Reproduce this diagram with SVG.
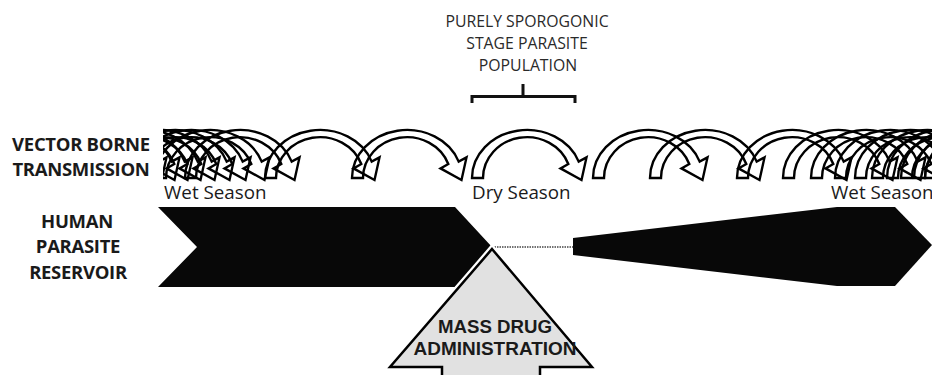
<svg xmlns="http://www.w3.org/2000/svg" xmlns:xlink="http://www.w3.org/1999/xlink" width="932" height="375" viewBox="0 0 932 375">
<style>
.lbl{font-family:"Open Sans","Liberation Sans",sans-serif;font-weight:bold;font-size:18.5px;fill:#1a1a1a;text-anchor:middle;letter-spacing:-0.3px}
.top{font-family:"Open Sans","Liberation Sans",sans-serif;font-size:15.8px;fill:#2a2a2a;text-anchor:middle}
.season{font-family:"Open Sans","Liberation Sans",sans-serif;font-size:18.8px;fill:#1a1a1a}
.mda{font-family:"Liberation Sans",Arial,sans-serif;font-weight:bold;font-size:18px;fill:#1a1a1a;text-anchor:middle}
.arc{fill:none;stroke:#000;stroke-width:2.4;stroke-linejoin:miter}
.res{fill:#080808}
</style>
<defs>
<path id="arc" d="M0 0 A55 48 0 0 1 106.7 -16.4 L114.5 -20.6 L109.5 2 L88.5 -9.6 L96.3 -14 A44 41 0 0 0 11 0 Z"/>
<clipPath id="clip"><rect x="163" y="100" width="769" height="100"/></clipPath>
</defs>
<rect width="932" height="375" fill="#fff"/>

<g id="label-vector">
<text class="lbl" x="81" y="151">VECTOR BORNE</text>
<text class="lbl" x="81" y="176">TRANSMISSION</text>
</g>
<g id="label-human">
<text class="lbl" x="77" y="228">HUMAN</text>
<text class="lbl" x="78" y="253">PARASITE</text>
<text class="lbl" x="78" y="279">RESERVOIR</text>
</g>
<g id="label-sporogonic">
<text class="top" x="527" y="27">PURELY SPOROGONIC</text>
<text class="top" x="527" y="49">STAGE PARASITE</text>
<text class="top" x="528" y="71">POPULATION</text>
<path d="M472 103 V96.5 H575 V103 M523 96.5 V84" fill="none" stroke="#111" stroke-width="3"/>
</g>
<g id="seasons">
<text class="season" x="164" y="199">Wet Season</text>
<text class="season" x="472" y="199">Dry Season</text>
<text class="season" x="831" y="199">Wet Season</text>
</g>

<g id="connectors">
<g id="vector-arcs" clip-path="url(#clip)">
<use xlink:href="#arc" class="arc" x="52" y="178"/>
<use xlink:href="#arc" class="arc" x="65" y="178"/>
<use xlink:href="#arc" class="arc" x="78" y="178"/>
<use xlink:href="#arc" class="arc" x="91" y="178"/>
<use xlink:href="#arc" class="arc" x="105" y="178"/>
<use xlink:href="#arc" class="arc" x="120" y="178"/>
<use xlink:href="#arc" class="arc" x="136" y="178"/>
<use xlink:href="#arc" class="arc" x="155" y="178"/>
<use xlink:href="#arc" class="arc" x="185" y="178"/>
<use xlink:href="#arc" class="arc" x="265" y="178"/>
<use xlink:href="#arc" class="arc" x="352" y="178"/>
<use xlink:href="#arc" class="arc" x="472" y="178"/>
<use xlink:href="#arc" class="arc" x="593" y="178"/>
<use xlink:href="#arc" class="arc" x="650" y="178"/>
<use xlink:href="#arc" class="arc" x="737" y="178"/>
<use xlink:href="#arc" class="arc" x="783" y="178"/>
<use xlink:href="#arc" class="arc" x="811" y="178"/>
<use xlink:href="#arc" class="arc" x="835" y="178"/>
<use xlink:href="#arc" class="arc" x="855" y="178"/>
<use xlink:href="#arc" class="arc" x="872" y="178"/>
<use xlink:href="#arc" class="arc" x="887" y="178"/>
<use xlink:href="#arc" class="arc" x="901" y="178"/>
<use xlink:href="#arc" class="arc" x="914" y="178"/>
<use xlink:href="#arc" class="arc" x="925" y="178"/>
</g>
<line id="gap" x1="492" y1="247" x2="573" y2="247" stroke="#444" stroke-width="1.3" stroke-dasharray="1.5 1"/>
</g>

<g id="reservoir-wet">
<polygon class="res" points="158,207 455,207 492,247 455,287 158,287 197,247"/>
</g>
<g id="reservoir-rebound">
<polygon class="res" points="573,238 837,207 895,207 932,245 895,286 837,286 573,255"/>
</g>
<g id="mda">
<polygon points="492,249 592,367 540,367 540,380 442,380 442,367 390,367" fill="none" stroke="#fff" stroke-width="7" stroke-linejoin="miter"/>
<polygon points="492,249 592,367 540,367 540,380 442,380 442,367 390,367" fill="#e1e1e1" stroke="#000" stroke-width="2.5" stroke-linejoin="miter"/>
<text class="mda" x="495" y="333" textLength="114" lengthAdjust="spacingAndGlyphs">MASS DRUG</text>
<text class="mda" x="495" y="355" textLength="163" lengthAdjust="spacingAndGlyphs">ADMINISTRATION</text>
</g>
</svg>
